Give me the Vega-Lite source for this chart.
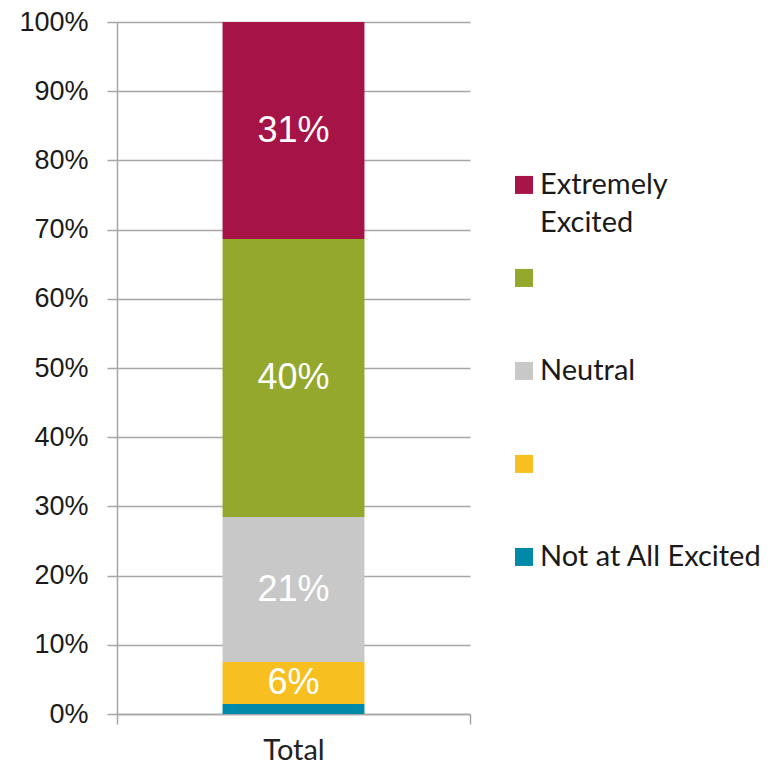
{
  "$schema": "https://vega.github.io/schema/vega-lite/v6.json",
  "background": "white",
  "padding": {"left": 18, "top": 8, "right": 0, "bottom": 0},
  "datasets": {
    "bars": [
      {"group": "Total", "category": "Extremely Excited", "label": "Extremely\nExcited", "value": 31.36, "rank": 5, "text": "31%"},
      {"group": "Total", "category": "Very Excited", "label": "", "value": 40.17, "rank": 4, "text": "40%"},
      {"group": "Total", "category": "Neutral", "label": "Neutral", "value": 20.96, "rank": 3, "text": "21%"},
      {"group": "Total", "category": "Not Very Excited", "label": "", "value": 6.06, "rank": 2, "text": "6%"},
      {"group": "Total", "category": "Not at All Excited", "label": "Not at All Excited", "value": 1.45, "rank": 1, "text": ""}
    ]
  },
  "spacing": 44,
  "hconcat": [
    {
      "width": 353,
      "height": 692,
      "data": {"name": "bars"},
      "encoding": {
        "x": {
          "field": "group", "type": "nominal",
          "scale": {"paddingInner": 0, "paddingOuter": 0},
          "axis": {
            "title": null, "labelAngle": 0, "tickBand": "extent",
            "domainColor": "#a6a6a6", "domainWidth": 1.5,
            "tickColor": "#a6a6a6", "tickWidth": 1.5, "tickSize": 10,
            "labelFont": "Lato", "labelFontSize": 29, "labelColor": "#222222",
            "labelPadding": 12
          }
        },
        "y": {
          "field": "value", "type": "quantitative", "stack": "zero",
          "scale": {"domain": [0, 100], "nice": false},
          "axis": {
            "title": null,
            "values": [0, 10, 20, 30, 40, 50, 60, 70, 80, 90, 100],
            "labelExpr": "datum.value + '%'",
            "grid": true, "gridColor": "#a6a6a6", "gridWidth": 1.5,
            "domainColor": "#a6a6a6", "domainWidth": 1.5,
            "tickColor": "#a6a6a6", "tickWidth": 1.5, "tickSize": 10,
            "labelFont": "Liberation Sans", "labelFontSize": 27, "labelColor": "#1a1a1a",
            "labelPadding": 19
          }
        },
        "order": {"field": "rank", "type": "quantitative"}
      },
      "layer": [
        {
          "mark": {"type": "bar", "width": {"band": 0.402}},
          "encoding": {
            "color": {
              "field": "category", "type": "nominal",
              "scale": {
                "domain": ["Extremely Excited", "Very Excited", "Neutral", "Not Very Excited", "Not at All Excited"],
                "range": ["#A61347", "#93A82D", "#C8C8C8", "#F7BF1F", "#0089A8"]
              },
              "legend": null
            }
          }
        },
        {
          "mark": {"type": "text", "color": "white", "font": "Liberation Sans", "fontSize": 36, "baseline": "middle", "align": "center"},
          "encoding": {
            "y": {"field": "value", "type": "quantitative", "stack": "zero", "bandPosition": 0.5},
            "text": {"field": "text"}
          }
        }
      ]
    },
    {
      "width": 18,
      "height": 558,
      "data": {"name": "bars"},
      "encoding": {
        "y": {
          "field": "category", "type": "nominal",
          "scale": {
            "type": "point",
            "domain": ["Extremely Excited", "Very Excited", "Neutral", "Not Very Excited", "Not at All Excited"],
            "padding": 1, "align": 0.876
          },
          "axis": null
        }
      },
      "layer": [
        {
          "mark": {"type": "square", "size": 324, "opacity": 1, "filled": true},
          "encoding": {
            "color": {
              "field": "category", "type": "nominal",
              "scale": {
                "domain": ["Extremely Excited", "Very Excited", "Neutral", "Not Very Excited", "Not at All Excited"],
                "range": ["#A61347", "#93A82D", "#C8C8C8", "#F7BF1F", "#0089A8"]
              },
              "legend": null
            }
          }
        },
        {
          "mark": {"type": "text", "align": "left", "baseline": "middle", "dx": 16, "font": "Lato", "fontSize": 29, "color": "#1a1a1a", "lineBreak": "\n", "lineHeight": 38},
          "encoding": {"text": {"field": "label"}}
        }
      ]
    }
  ],
  "config": {"view": {"stroke": null}}
}
